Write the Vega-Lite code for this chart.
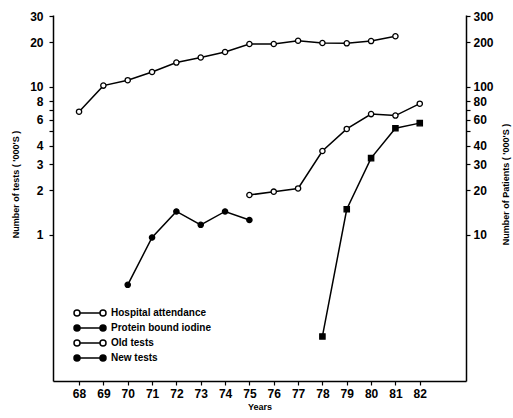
{
  "$schema": "https://vega.github.io/schema/vega-lite/v6.json",
  "width": 413,
  "height": 366,
  "autosize": "none",
  "padding": {"left": 53, "top": 15, "right": 47, "bottom": 37},
  "background": "white",
  "config": {
    "view": {"stroke": null},
    "font": "Liberation Sans",
    "axis": {
      "grid": false,
      "domainColor": "black",
      "domainWidth": 1.5,
      "tickColor": "black",
      "tickWidth": 1.2,
      "tickSize": 4,
      "labelColor": "black",
      "labelFont": "Liberation Sans",
      "labelFontSize": 12,
      "labelFontWeight": "bold",
      "titleColor": "black",
      "titleFont": "Liberation Sans",
      "titleFontSize": 9,
      "titleFontWeight": "bold"
    }
  },
  "data": {
    "values": [
      {"year": 68, "series": "Hospital attendance", "value": 68},
      {"year": 69, "series": "Hospital attendance", "value": 102},
      {"year": 70, "series": "Hospital attendance", "value": 111},
      {"year": 71, "series": "Hospital attendance", "value": 126},
      {"year": 72, "series": "Hospital attendance", "value": 146},
      {"year": 73, "series": "Hospital attendance", "value": 158},
      {"year": 74, "series": "Hospital attendance", "value": 172},
      {"year": 75, "series": "Hospital attendance", "value": 195},
      {"year": 76, "series": "Hospital attendance", "value": 195},
      {"year": 77, "series": "Hospital attendance", "value": 205},
      {"year": 78, "series": "Hospital attendance", "value": 198},
      {"year": 79, "series": "Hospital attendance", "value": 197},
      {"year": 80, "series": "Hospital attendance", "value": 204},
      {"year": 81, "series": "Hospital attendance", "value": 220},
      {"year": 70, "series": "Protein bound iodine", "value": 0.46},
      {"year": 71, "series": "Protein bound iodine", "value": 0.96},
      {"year": 72, "series": "Protein bound iodine", "value": 1.44},
      {"year": 73, "series": "Protein bound iodine", "value": 1.17},
      {"year": 74, "series": "Protein bound iodine", "value": 1.44},
      {"year": 75, "series": "Protein bound iodine", "value": 1.26},
      {"year": 75, "series": "Old tests", "value": 1.86},
      {"year": 76, "series": "Old tests", "value": 1.96},
      {"year": 77, "series": "Old tests", "value": 2.06},
      {"year": 78, "series": "Old tests", "value": 3.69},
      {"year": 79, "series": "Old tests", "value": 5.2},
      {"year": 80, "series": "Old tests", "value": 6.55},
      {"year": 81, "series": "Old tests", "value": 6.4},
      {"year": 82, "series": "Old tests", "value": 7.7},
      {"year": 78, "series": "New tests", "value": 0.206},
      {"year": 79, "series": "New tests", "value": 1.49},
      {"year": 80, "series": "New tests", "value": 3.3},
      {"year": 81, "series": "New tests", "value": 5.26},
      {"year": 82, "series": "New tests", "value": 5.69}
    ]
  },
  "encoding": {
    "x": {
      "field": "year",
      "type": "quantitative",
      "scale": {"domain": [66.93, 83.9], "nice": false, "zero": false},
      "axis": {
        "values": [68, 69, 70, 71, 72, 73, 74, 75, 76, 77, 78, 79, 80, 81, 82],
        "format": "d",
        "title": "Years",
        "labelPadding": 3,
        "titlePadding": 3
      }
    },
    "fill": {
      "field": "series",
      "type": "nominal",
      "scale": {
        "domain": ["Hospital attendance", "Protein bound iodine", "Old tests", "New tests"],
        "range": ["white", "black", "white", "black"]
      },
      "legend": {
        "title": null,
        "orient": "none",
        "legendX": 32,
        "legendY": 293,
        "padding": 0,
        "symbolType": "M-2.5,0 A0.75,0.75 0 1 1 -4,0 A0.75,0.75 0 1 1 -2.5,0 Z M4,0 A0.75,0.75 0 1 1 2.5,0 A0.75,0.75 0 1 1 4,0 Z M-2.5,0 L2.5,0",
        "symbolSize": 64,
        "symbolStrokeColor": "black",
        "symbolStrokeWidth": 1.5,
        "symbolOpacity": 1,
        "rowPadding": 3,
        "labelOffset": 16,
        "labelFont": "Liberation Sans",
        "labelFontSize": 10,
        "labelFontWeight": "bold",
        "labelColor": "black"
      }
    }
  },
  "layer": [
    {
      "transform": [{"filter": "datum.series !== 'Hospital attendance'"}],
      "encoding": {
        "y": {
          "field": "value",
          "type": "quantitative",
          "scale": {"type": "log", "domain": [0.103, 30.6], "nice": false},
          "axis": {
            "orient": "left",
            "values": [1, 2, 3, 4, 5, 6, 7, 8, 10, 20, 30],
            "labelExpr": "datum.value == 5 || datum.value == 7 ? '' : format(datum.value, 'd')",
            "title": "Number of tests ( '000'S )",
            "labelPadding": 6,
            "titleAngle": 270,
            "titleX": -38,
            "titleY": 169,
            "titleAlign": "center",
            "titleBaseline": "middle"
          }
        }
      },
      "layer": [
        {
          "mark": {"type": "line", "stroke": "black", "strokeWidth": 1.5},
          "encoding": {"detail": {"field": "series"}, "fill": null}
        },
        {
          "transform": [{"filter": "datum.series !== 'New tests'"}],
          "mark": {"type": "point", "shape": "circle", "filled": true, "stroke": "black", "strokeWidth": 1.3, "size": 28, "opacity": 1}
        },
        {
          "transform": [{"filter": "datum.series === 'New tests'"}],
          "mark": {"type": "point", "shape": "square", "filled": true, "stroke": "black", "strokeWidth": 1.3, "size": 28, "opacity": 1}
        }
      ]
    },
    {
      "transform": [{"filter": "datum.series === 'Hospital attendance'"}],
      "encoding": {
        "y": {
          "field": "value",
          "type": "quantitative",
          "scale": {"type": "log", "domain": [1.03, 306], "nice": false},
          "axis": {
            "orient": "right",
            "values": [10, 20, 30, 40, 50, 60, 70, 80, 100, 200, 300],
            "labelExpr": "datum.value == 50 || datum.value == 70 ? '' : format(datum.value, 'd')",
            "title": "Number of Patients ( '000'S )",
            "labelPadding": 3,
            "titleAngle": 270,
            "titleX": 39,
            "titleY": 169,
            "titleAlign": "center",
            "titleBaseline": "middle"
          }
        }
      },
      "layer": [
        {
          "mark": {"type": "line", "stroke": "black", "strokeWidth": 1.5},
          "encoding": {"detail": {"field": "series"}, "fill": null}
        },
        {
          "mark": {"type": "point", "shape": "circle", "filled": true, "stroke": "black", "strokeWidth": 1.3, "size": 28, "opacity": 1}
        }
      ]
    }
  ],
  "resolve": {"scale": {"y": "independent"}}
}
